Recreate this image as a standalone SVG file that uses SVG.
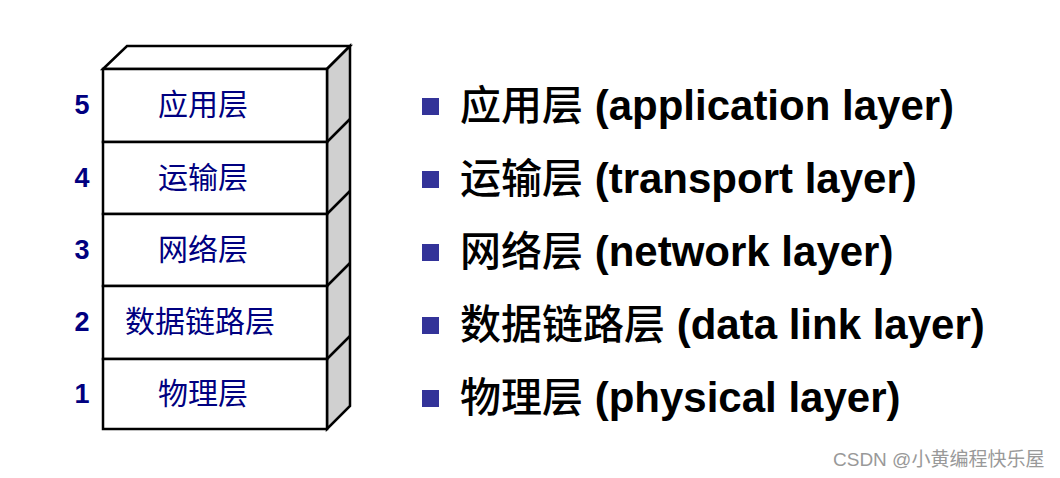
<svg xmlns="http://www.w3.org/2000/svg" width="1060" height="478" viewBox="0 0 1060 478">
<style>
.box{fill:#fff;stroke:#000;stroke-width:2.5}
.side{fill:#d0d0d0;stroke:#000;stroke-width:2.5;stroke-linejoin:miter}
.lbl{font-family:"Noto Sans CJK SC","Liberation Sans",sans-serif;font-size:30px;fill:#000080;text-anchor:middle}
.num{font-family:"Liberation Sans",sans-serif;font-weight:bold;font-size:27px;fill:#000080;text-anchor:middle}
.item{font-family:"Liberation Sans","Noto Sans CJK SC",sans-serif;font-weight:bold;font-size:42px;fill:#000}
.cj{font-family:"Noto Sans CJK SC",sans-serif;font-weight:500;font-size:41px}
.bul{fill:#333399}
.wm{font-family:"Liberation Sans","Noto Sans CJK SC",sans-serif;font-size:19px;fill:#999}
</style>
<rect width="1060" height="478" fill="#fff"/>
<g id="stack">
<polygon class="box" points="103,69 127,46 350,46 327,69"/>
<polygon class="side" points="327,69 350,46 350,406 327,429"/>
</g>
<g id="connectors" fill="none" stroke="#000" stroke-width="2.5">
<line x1="327" y1="142" x2="350" y2="119"/>
<line x1="327" y1="214" x2="350" y2="191"/>
<line x1="327" y1="286" x2="350" y2="263"/>
<line x1="327" y1="359" x2="350" y2="336"/>
</g>
<g id="layer5"><rect class="box" x="103" y="69" width="224" height="73"/><text class="lbl" x="203" y="115">应用层</text><text class="num" x="82" y="114">5</text></g>
<g id="layer4"><rect class="box" x="103" y="142" width="224" height="72"/><text class="lbl" x="203" y="188">运输层</text><text class="num" x="82" y="187">4</text></g>
<g id="layer3"><rect class="box" x="103" y="214" width="224" height="72"/><text class="lbl" x="203" y="260">网络层</text><text class="num" x="82" y="259">3</text></g>
<g id="layer2"><rect class="box" x="103" y="286" width="224" height="73"/><text class="lbl" x="200" y="332">数据链路层</text><text class="num" x="82" y="331">2</text></g>
<g id="layer1"><rect class="box" x="103" y="359" width="224" height="70"/><text class="lbl" x="203" y="404">物理层</text><text class="num" x="82" y="403">1</text></g>
<g id="list">
<rect class="bul" x="422" y="98" width="17" height="17"/><text class="item" x="460" y="120"><tspan class="cj">应用层</tspan> (application layer)</text>
<rect class="bul" x="422" y="171" width="17" height="17"/><text class="item" x="460" y="193"><tspan class="cj">运输层</tspan> (transport layer)</text>
<rect class="bul" x="422" y="244" width="17" height="17"/><text class="item" x="460" y="266"><tspan class="cj">网络层</tspan> (network layer)</text>
<rect class="bul" x="422" y="317" width="17" height="17"/><text class="item" x="460" y="339"><tspan class="cj">数据链路层</tspan> (data link layer)</text>
<rect class="bul" x="422" y="390" width="17" height="17"/><text class="item" x="460" y="412"><tspan class="cj">物理层</tspan> (physical layer)</text>
</g>
<text class="wm" x="833" y="466">CSDN @小黄编程快乐屋</text>
</svg>
